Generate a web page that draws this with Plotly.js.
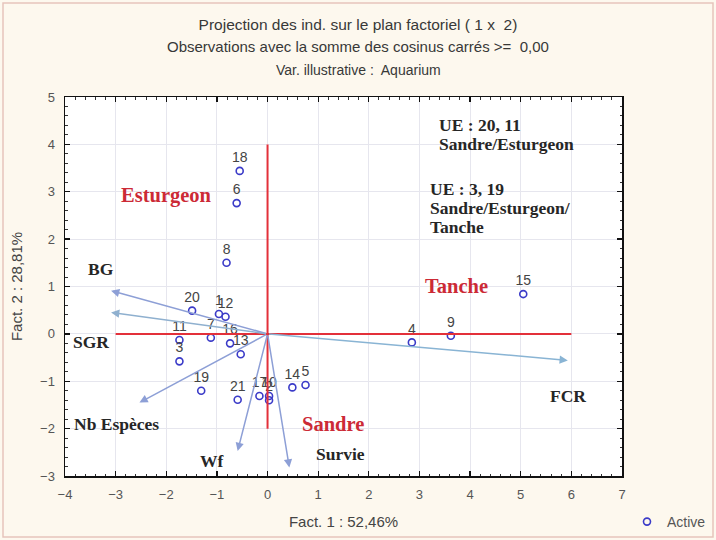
<!DOCTYPE html>
<html>
<head>
<meta charset="utf-8">
<script src="https://cdn.plot.ly/plotly-3.0.1.min.js"></script>
<style>html,body{margin:0;padding:0;background:#fdf8ee;}#chart{width:716px;height:540px;}</style>
</head>
<body>
<div id="chart"></div>
<script>
// Individuals (observations) on factorial plane 1 x 2
var obsLabels = ['1','2','3','4','5','6','7','8','9','10','11','12','13','14','15','16','17','18','19','20','21'];
var fact1 = [-0.96, 0.03, -1.74, 2.85, 0.75, -0.61, -1.12, -0.81, 3.62, 0.03, -1.74, -0.83, -0.53, 0.49, 5.05, -0.74, -0.16, -0.55, -1.31, -1.49, -0.59];
var fact2 = [0.42, -1.40, -0.58, -0.18, -1.08, 2.76, -0.08, 1.50, -0.04, -1.31, -0.13, 0.36, -0.43, -1.13, 0.84, -0.20, -1.31, 3.44, -1.20, 0.49, -1.39];

// Variable vectors (arrow tips)
var varNames = ['BG', 'SGR', 'Nb Espèces', 'Wf', 'Survie', 'FCR'];
var varF1 = [-3.09, -3.09, -2.53, -0.59, 0.43, 5.93];
var varF2 = [0.91, 0.45, -1.45, -2.47, -2.82, -0.56];

// Group labels
var groupNames = ['Esturgeon', 'Tanche', 'Sandre'];

var SERIF = 'Liberation Serif, DejaVu Serif, serif';
var SANS = 'Liberation Sans, Arial, sans-serif';

var annotations = [];
var arrowColors = ['#8d9fd6', '#8fb0cf', '#8d9fd6', '#8d9fd6', '#8d9fd6', '#89b4d4'];
for (var i = 0; i < varNames.length; i++) {
  annotations.push({x: varF1[i], y: varF2[i], xref: 'x', yref: 'y', ax: 0, ay: 0, axref: 'x', ayref: 'y',
    text: '', showarrow: true, arrowhead: 2, arrowsize: 1.1, arrowwidth: 1.5, arrowcolor: arrowColors[i], standoff: 0});
}
var varLabelPos = [[-3.28, 1.37], [-3.49, -0.18], [-2.99, -1.90], [-1.10, -2.68], [1.45, -2.53], [5.94, -1.31]];
for (var j = 0; j < varNames.length; j++) {
  annotations.push({x: varLabelPos[j][0], y: varLabelPos[j][1], xref: 'x', yref: 'y', text: '<b>' + varNames[j] + '</b>',
    showarrow: false, font: {family: SERIF, size: 17.5, color: '#262626'}});
}
var groupPos = [[-1.99, 2.93], [3.73, 1.01], [1.30, -1.90]];
for (var k = 0; k < groupNames.length; k++) {
  annotations.push({x: groupPos[k][0], y: groupPos[k][1], xref: 'x', yref: 'y', text: '<b>' + groupNames[k] + '</b>',
    showarrow: false, font: {family: SERIF, size: 20.5, color: '#cc2a36'}});
}
var ueLines = [['UE : 20, 11', 3.355, 4.41], ['Sandre/Esturgeon', 3.34, 4.01], ['UE : 3, 19', 3.16, 3.06], ['Sandre/Esturgeon/', 3.16, 2.66], ['Tanche', 3.16, 2.26]];
ueLines.forEach(function (u) {
  annotations.push({x: u[1], y: u[2], xref: 'x', yref: 'y', xanchor: 'left', text: '<b>' + u[0] + '</b>', showarrow: false,
    font: {family: SERIF, size: 17.5, color: '#262626'}});
});
// subtitle lines (paper coordinates: plot area spans px x 65..622, y 97..476)
annotations.push({x: (358 - 65) / 557, y: (476 - 47) / 379, xref: 'paper', yref: 'paper', yanchor: 'middle',
  text: 'Observations avec la somme des cosinus carrés >=  0,00', showarrow: false,
  font: {family: SANS, size: 15, color: '#383838'}});
annotations.push({x: (358 - 65) / 557, y: (476 - 70) / 379, xref: 'paper', yref: 'paper', yanchor: 'middle',
  text: 'Var. illustrative :  Aquarium', showarrow: false,
  font: {family: SANS, size: 14, color: '#383838'}});

var trace = {
  type: 'scatter', mode: 'markers+text', name: 'Active',
  x: fact1, y: fact2, text: obsLabels, textposition: 'top center',
  textfont: {family: SANS, size: 14, color: '#444'},
  marker: {symbol: 'circle-open', size: 7, color: '#3b3bc8', line: {width: 1.6, color: '#3b3bc8'}},
  cliponaxis: false
};

var axisCommon = {
  showgrid: true, gridcolor: '#e6e6ee', gridwidth: 1, zeroline: false,
  showline: true, linecolor: '#111', linewidth: 1.5, mirror: 'allticks',
  ticks: 'inside', ticklen: 5, tickwidth: 1.3, tickcolor: '#111', dtick: 1,
  minor: {ticks: 'inside', ticklen: 2.5, tickwidth: 1, tickcolor: '#333', dtick: 0.2, showgrid: false},
  tickfont: {family: SANS, size: 13, color: '#555'},
  ticklabelstandoff: 6
};

var layout = {
  width: 716, height: 540,
  margin: {l: 65, r: 94, t: 97, b: 64},
  paper_bgcolor: '#fdf8ee', plot_bgcolor: '#ffffff',
  title: {text: 'Projection des ind. sur le plan factoriel ( 1 x  2)', x: 358 / 716, xanchor: 'center', y: 1 - 25 / 540, yanchor: 'middle',
    font: {family: SANS, size: 15.5, color: '#383838'}},
  xaxis: Object.assign({}, axisCommon, {range: [-4, 7], title: {text: 'Fact. 1 : 52,46%', standoff: 15,
    font: {family: SANS, size: 15, color: '#444'}}}),
  yaxis: Object.assign({}, axisCommon, {range: [-3, 5], title: {text: 'Fact. 2 : 28,81%', standoff: 14,
    font: {family: SANS, size: 15, color: '#444'}}}),
  showlegend: true,
  legend: {xref: 'container', yref: 'container', x: 627 / 716, y: 1 - 522 / 540, xanchor: 'left', yanchor: 'middle', bgcolor: 'rgba(0,0,0,0)',
    font: {family: SANS, size: 14, color: '#555'}},
  shapes: [
    {type: 'line', xref: 'x', yref: 'y', x0: -3, x1: 6, y0: 0, y1: 0, line: {color: '#e3303a', width: 2}, layer: 'above'},
    {type: 'line', xref: 'x', yref: 'y', x0: 0, x1: 0, y0: -2, y1: 4, line: {color: '#e3303a', width: 2}, layer: 'above'},
    {type: 'rect', xref: 'paper', yref: 'paper', x0: (3 - 65) / 557, x1: (713 - 65) / 557, y0: (476 - 537) / 379, y1: (476 - 3) / 379,
      line: {color: '#e6c4bc', width: 1.5}, fillcolor: 'rgba(0,0,0,0)', layer: 'below'}
  ],
  annotations: annotations
};

Plotly.newPlot('chart', [trace], layout, {displayModeBar: false, staticPlot: true});
</script>
</body>
</html>
